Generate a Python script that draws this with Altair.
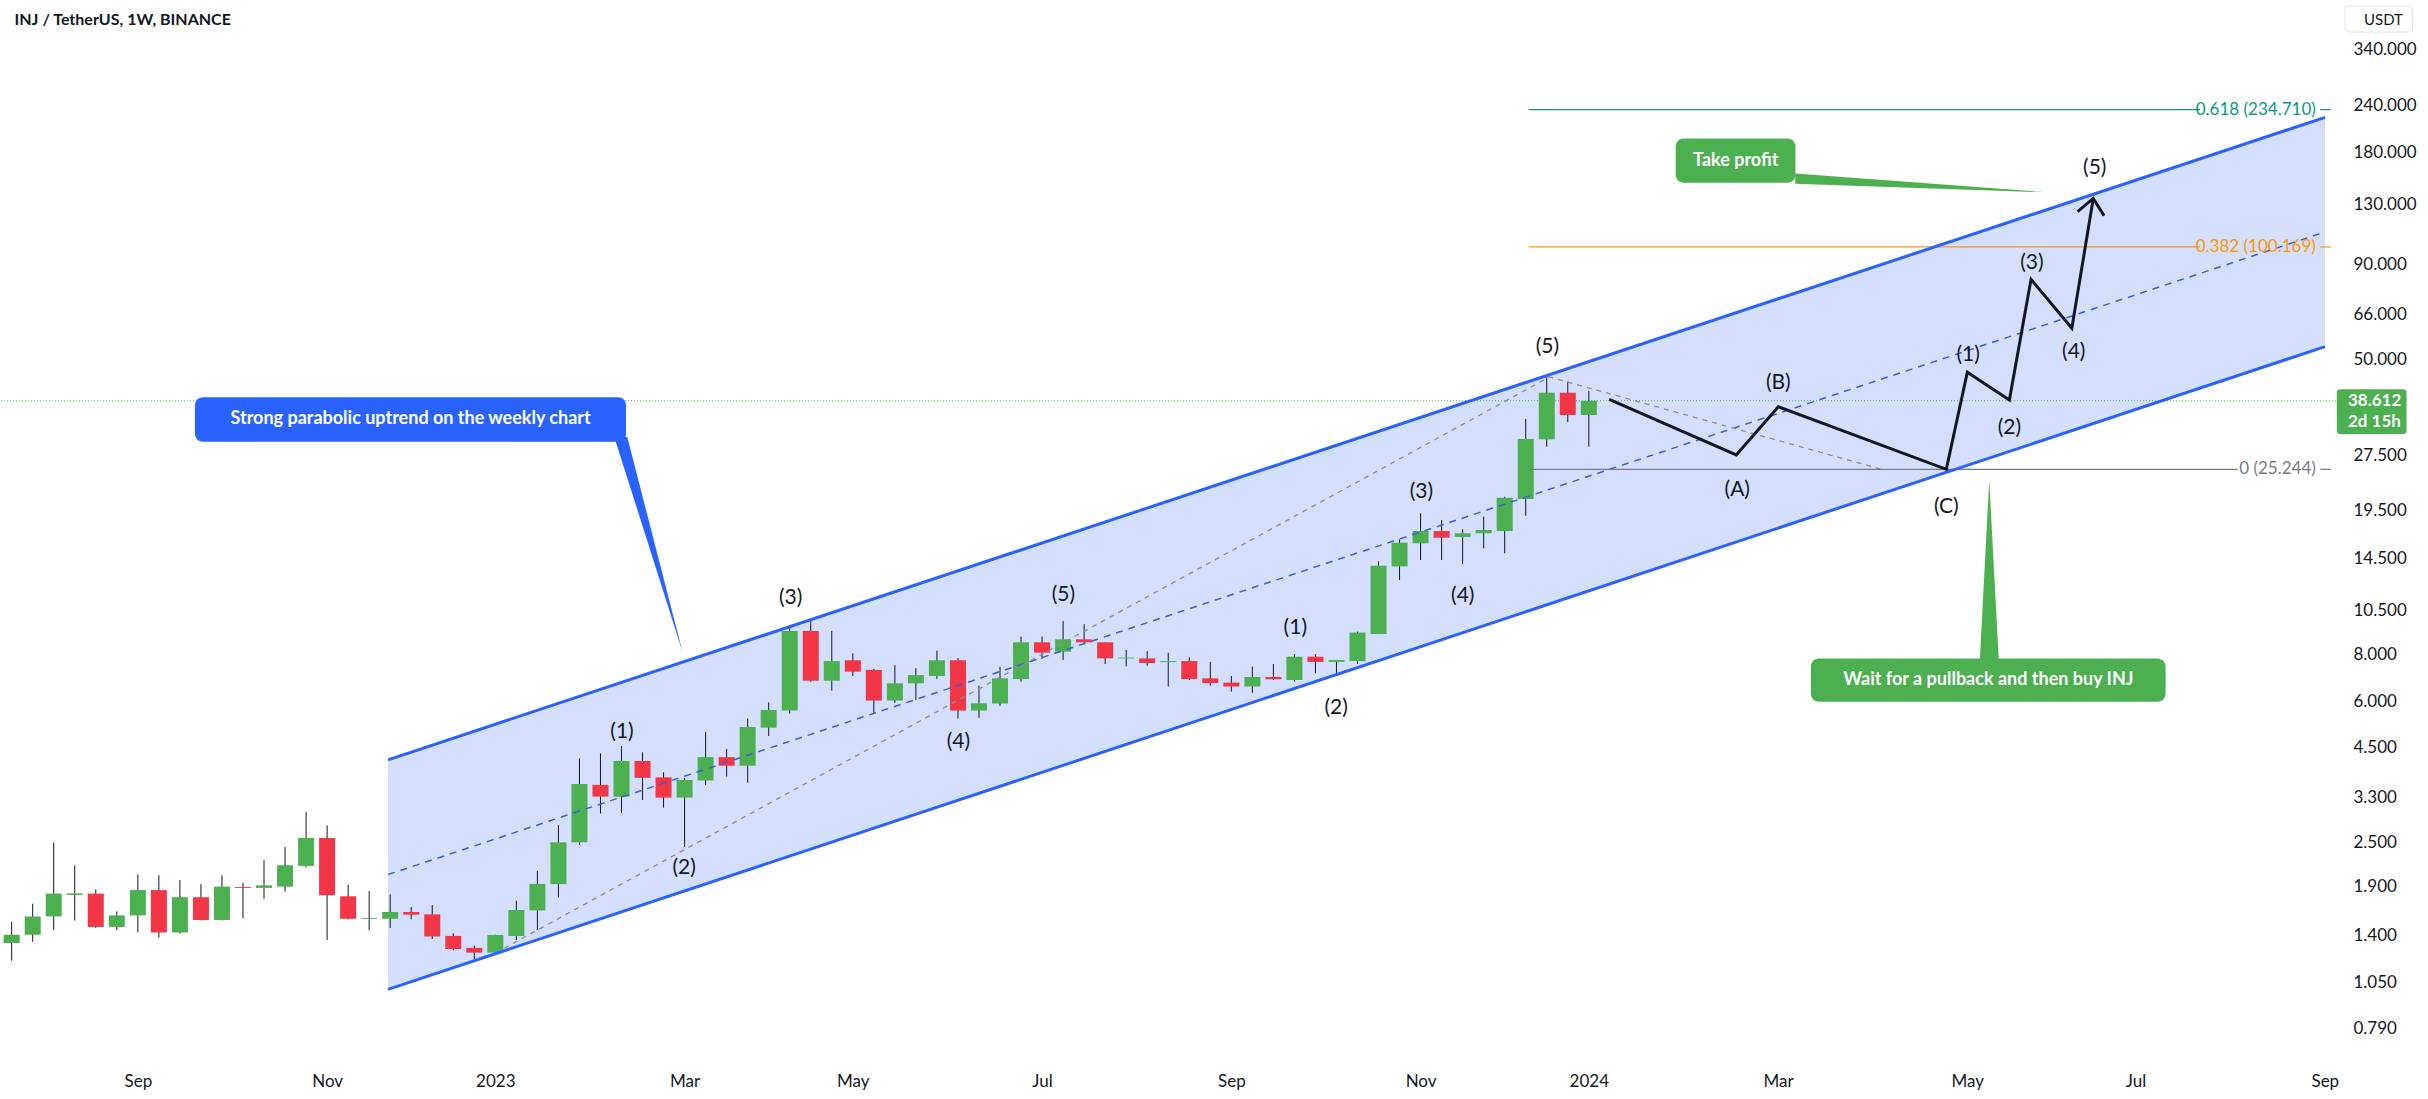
import altair as alt
import pandas as pd
import numpy as np

# ---------------- weekly candles (INJ/USDT, first week 2022-07-25) ----------------
candle_dates = [d.strftime("%Y-%m-%d") for d in pd.date_range("2022-07-25", periods=76, freq="7D")]
opens = [1.34, 1.41, 1.58, 1.805, 1.82, 1.48, 1.59, 1.86, 1.43, 1.78,
         1.545, 1.896, 1.885, 1.90, 2.16, 2.57, 1.79, 1.557, 1.557, 1.624,
         1.60, 1.40, 1.30, 1.262, 1.40, 1.64, 1.93, 2.50, 3.57, 3.32,
         4.14, 3.74, 3.30, 3.67, 4.24, 4.02, 5.09, 5.66, 9.27, 6.81,
         7.73, 7.28, 6.02, 6.70, 7.01, 7.73, 5.66, 5.91, 6.88, 8.64,
         8.15, 8.80, 8.64, 7.82, 7.82, 7.64, 7.69, 6.91, 6.73, 6.57,
         6.97, 6.84, 7.90, 7.65, 7.69, 9.09, 13.83, 15.96, 17.22, 16.60,
         16.98, 17.22, 21.0, 30.4, 40.58, 35.35]
highs = [1.53, 1.71, 2.50, 2.17, 1.87, 1.63, 2.05, 2.04, 1.98, 1.93,
         2.04, 1.95, 2.24, 2.43, 3.02, 2.78, 1.92, 1.85, 1.81, 1.675,
         1.695, 1.422, 1.318, 1.41, 1.742, 2.097, 2.784, 4.21, 4.34, 4.54,
         4.37, 3.86, 3.73, 4.955, 4.46, 5.39, 5.956, 9.62, 9.92, 9.27,
         8.07, 7.32, 7.50, 7.36, 8.20, 7.84, 6.60, 7.43, 8.95, 8.95,
         9.86, 9.67, 8.64, 8.24, 8.18, 8.10, 7.87, 7.65, 7.01, 7.43,
         7.55, 8.03, 8.03, 7.74, 9.23, 14.25, 16.35, 19.22, 18.44, 17.40,
         18.83, 21.30, 34.48, 44.82, 43.45, 41.0]
lows = [1.20, 1.35, 1.45, 1.54, 1.47, 1.45, 1.43, 1.385, 1.42, 1.54,
        1.54, 1.56, 1.76, 1.84, 2.14, 1.365, 1.55, 1.45, 1.47, 1.552,
        1.374, 1.281, 1.213, 1.245, 1.365, 1.452, 1.776, 2.46, 2.99, 3.00,
        3.25, 3.10, 2.43, 3.57, 3.76, 3.62, 4.834, 5.55, 6.77, 6.40,
        7.01, 5.54, 5.94, 6.04, 6.88, 5.39, 5.41, 5.83, 6.77, 7.79,
        7.74, 8.53, 7.55, 7.44, 7.47, 6.57, 6.84, 6.60, 6.36, 6.32,
        6.84, 6.77, 7.13, 7.10, 7.55, 9.09, 12.71, 14.39, 14.39, 14.04,
        15.47, 15.0, 18.93, 29.05, 33.83, 29.05]
closes = [1.41, 1.58, 1.82, 1.822, 1.48, 1.59, 1.86, 1.43, 1.78, 1.545,
          1.90, 1.885, 1.915, 2.17, 2.57, 1.80, 1.557, 1.565, 1.624, 1.597,
          1.395, 1.291, 1.262, 1.408, 1.644, 1.932, 2.50, 3.59, 3.32, 4.14,
          3.73, 3.30, 3.68, 4.24, 4.02, 5.11, 5.68, 9.27, 6.81, 7.69,
          7.20, 6.02, 6.70, 7.05, 7.73, 5.66, 5.92, 6.91, 8.64, 8.10,
          8.80, 8.64, 7.82, 7.86, 7.60, 7.69, 6.88, 6.71, 6.57, 6.97,
          6.87, 7.90, 7.65, 7.74, 9.18, 13.88, 16.02, 17.22, 16.52, 16.98,
          17.33, 21.17, 30.47, 40.58, 35.35, 38.612]

# ---------------- drawings ----------------
channel_dates = ["2022-11-27T07:00:00Z", "2024-09-02T02:00:00Z"]
channel_lower = [1.0055, 54.0]
channel_upper = [4.17, 223.6]
channel_mid = [2.048, 109.9]

fib_trend_dates = ["2023-01-02T00:00:00Z", "2023-12-18T22:00:00Z", "2024-04-07T12:00:00Z"]
fib_trend_prices = [1.259, 44.74, 25.244]

fib_labels = ["0.618 (234.710)", "0.382 (100.169)", "0 (25.244)"]
fib_prices = [234.71, 100.169, 25.244]
fib_colors = ["#089981", "#ff9800", "#787b86"]
fib_start = ["2023-12-12T00:00:00Z"] * 3
fib_end = ["2024-07-22T12:00:00Z", "2024-07-22T12:00:00Z", "2024-08-04T00:00:00Z"]
fib_label_at = ["2024-08-30T00:00:00Z"] * 3
fib_tail_start = ["2024-08-31T12:00:00Z"] * 3
fib_tail_end = ["2024-09-04T00:00:00Z"] * 3

path_dates = ["2024-01-07T19:00:00Z", "2024-02-19T02:00:00Z", "2024-03-04T02:00:00Z",
              "2024-04-29T00:00:00Z", "2024-05-06T00:00:00Z", "2024-05-20T00:00:00Z",
              "2024-05-27T05:00:00Z", "2024-06-09T19:00:00Z", "2024-06-16T22:00:00Z"]
path_prices = [38.97, 27.59, 37.22, 25.244, 46.06, 38.80, 81.95, 60.5, 135.3]

wave_labels = ["(1)", "(2)", "(3)", "(4)", "(5)", "(1)", "(2)", "(3)", "(4)", "(5)",
               "(A)", "(B)", "(C)", "(1)", "(2)", "(3)", "(4)", "(5)"]
wave_dates = ["2023-02-13T04:00:00Z", "2023-03-05T20:00:00Z", "2023-04-10T07:00:00Z",
              "2023-06-05T04:00:00Z", "2023-07-10T02:00:00Z", "2023-09-25T07:00:00Z",
              "2023-10-08T21:00:00Z", "2023-11-06T07:00:00Z", "2023-11-20T01:00:00Z",
              "2023-12-18T05:00:00Z", "2024-02-19T10:00:00Z", "2024-03-04T02:00:00Z",
              "2024-04-29T00:00:00Z", "2024-05-06T07:00:00Z", "2024-05-20T00:00:00Z",
              "2024-05-27T12:00:00Z", "2024-06-10T10:00:00Z", "2024-06-17T10:00:00Z"]
wave_prices = [4.965, 2.128, 11.37, 4.665, 11.59, 9.42, 5.74, 21.98, 11.51, 53.97,
               22.21, 43.18, 20.03, 51.27, 32.55, 90.82, 52.3, 163.0]

callout_texts = ["Strong parabolic uptrend on the weekly chart", "Take profit",
                 "Wait for a pullback and then buy INJ"]
callout_colors = ["#2962ff", "#4caf50", "#4caf50"]
callout_x1 = ["2022-09-24T00:00:00Z", "2024-01-29T22:00:00Z", "2024-03-14T22:00:00Z"]
callout_x2 = ["2023-02-14T12:00:00Z", "2024-03-09T19:00:00Z", "2024-07-11T00:00:00Z"]
callout_top = [39.46, 196.3, 7.82]
callout_bottom = [29.96, 149.1, 5.98]
callout_tx = ["2022-12-04T19:00:00Z", "2024-02-18T22:00:00Z", "2024-05-13T00:00:00Z"]
callout_ty = [34.38, 171.1, 6.839]

price_now = 38.612

y_ticks = [0.79, 1.05, 1.4, 1.9, 2.5, 3.3, 4.5, 6, 8, 10.5, 14.5, 19.5, 27.5, 50, 66, 90, 130, 180, 240, 340]

# ---------------- scales / axes ----------------
FONT = "Lato"
xs = alt.Scale(type="utc", nice=False,
               domain=[alt.DateTime(year=2022, month=7, date=22, hours=18, minutes=42, utc=True),
                       alt.DateTime(year=2024, month=9, date=4, hours=1, minutes=24, utc=True)])
ys = alt.Scale(type="log", domain=[0.6174, 462.9], nice=False)

x_tick_dates = [(2022, 9, 5), (2022, 11, 7), (2023, 1, 2), (2023, 3, 6), (2023, 5, 1), (2023, 7, 3),
                (2023, 9, 4), (2023, 11, 6), (2024, 1, 1), (2024, 3, 4), (2024, 5, 6), (2024, 7, 1),
                (2024, 9, 2)]
xaxis = alt.Axis(values=[alt.DateTime(year=a, month=b, date=c, utc=True) for a, b, c in x_tick_dates],
                 labelExpr="utcmonth(datum.value) == 0 ? utcFormat(datum.value, '%Y') : utcFormat(datum.value, '%b')",
                 title=None, ticks=False, domain=False, grid=False, labelFont=FONT, labelFontSize=17,
                 labelColor="#131722", labelPadding=5, labelFlush=False, labelOverlap=False)
yaxis = alt.Axis(orient="right", values=y_ticks, format=".3f", title="USDT", titleAngle=0,
                 titleX=47, titleY=19, titleAlign="center", titleBaseline="middle", titleFont=FONT,
                 titleFontSize=15, titleFontWeight="normal", titleColor="#131722",
                 ticks=False, domain=False, grid=False, labelFont=FONT, labelFontSize=17,
                 labelColor="#131722", labelPadding=17, labelOverlap=False, labelBaseline="middle")


def X(f):
    return alt.X(f, type="temporal", scale=xs, axis=xaxis)


def Y(f):
    return alt.Y(f, type="quantitative", scale=ys, axis=yaxis)


# ---------------- data frames ----------------
cdf = pd.DataFrame({"date": candle_dates, "open": opens, "high": highs, "low": lows, "close": closes})
cdf["dir"] = np.where(cdf["close"] >= cdf["open"], "up", "down")

chdf = pd.DataFrame({"date": channel_dates, "lower": channel_lower, "upper": channel_upper, "mid": channel_mid})
ftdf = pd.DataFrame({"date": fib_trend_dates, "price": fib_trend_prices})
fldf = pd.DataFrame({"label": fib_labels, "price": fib_prices, "color": fib_colors, "s": fib_start,
                     "e": fib_end, "lx": fib_label_at, "ts": fib_tail_start, "te": fib_tail_end})
pdf = pd.DataFrame({"date": path_dates, "price": path_prices, "order": list(range(len(path_dates)))})
wdf = pd.DataFrame({"label": wave_labels, "date": wave_dates, "price": wave_prices})
cbdf = pd.DataFrame({"text": callout_texts, "color": callout_colors, "x1": callout_x1, "x2": callout_x2,
                     "top": callout_top, "bottom": callout_bottom, "tx": callout_tx, "ty": callout_ty})

# pointer triangles of the callouts
ptr_blue = pd.DataFrame({"p": [30.85, 8.15],
                         "a": ["2023-02-10T14:00:00Z", "2023-03-05T07:00:00Z"],
                         "b": ["2023-02-14T22:00:00Z", "2023-03-05T07:00:00Z"]})
ptr_take = pd.DataFrame({"d": ["2024-03-09T17:00:00Z", "2024-06-01T19:00:00Z"],
                         "p1": [158.0, 140.5], "p2": [148.2, 140.5]})
ptr_wait = pd.DataFrame({"p": [7.645, 23.63],
                         "a": ["2024-05-10T03:00:00Z", "2024-05-13T07:00:00Z"],
                         "b": ["2024-05-16T12:00:00Z", "2024-05-13T07:00:00Z"]})

title_df = pd.DataFrame({"date": ["2022-07-25T23:00:00Z"], "price": [408.0],
                         "text": ["INJ / TetherUS, 1W, BINANCE"]})
badge_df = pd.DataFrame({"x1": ["2024-09-06T00:00:00Z"], "x2": ["2024-09-29T05:00:00Z"],
                         "top": [41.45], "bottom": [31.42]})
badge_txt = pd.DataFrame({"date": ["2024-09-09T17:00:00Z"] * 2, "price": [price_now, 33.91],
                          "text": [f"{price_now:.3f}", "2d 15h"]})
unit_box = pd.DataFrame({"x1": ["2024-09-08T17:00:00Z"], "x2": ["2024-10-01T05:00:00Z"],
                         "top": [445.9], "bottom": [379.6]})
now_df = pd.DataFrame({"p": [price_now]})

# ---------------- layers ----------------
fill = alt.Chart(chdf).mark_area(color="#d3dffd").encode(x=X("date"), y=Y("lower"), y2="upper")
price_line = alt.Chart(now_df).mark_rule(color="#4caf50", strokeDash=[1, 2], strokeWidth=1).encode(y=Y("p"))

wicks = alt.Chart(cdf).mark_rule(color="#131722", strokeWidth=1).encode(x=X("date"), y=Y("low"), y2="high")
bodies = alt.Chart(cdf).mark_bar(size=16).encode(
    x=X("date"), y=Y("open"), y2="close",
    color=alt.Color("dir:N", scale=alt.Scale(domain=["up", "down"], range=["#4caf50", "#f23645"]), legend=None))

mid = alt.Chart(chdf).mark_line(color="#3b5fd9", strokeDash=[7, 6], strokeWidth=1.5).encode(x=X("date"), y=Y("mid"))
upper = alt.Chart(chdf).mark_line(color="#2962ff", strokeWidth=3).encode(x=X("date"), y=Y("upper"))
lower = alt.Chart(chdf).mark_line(color="#2962ff", strokeWidth=3).encode(x=X("date"), y=Y("lower"))
ftrend = alt.Chart(ftdf).mark_line(color="#8a8e9c", strokeDash=[5, 5], strokeWidth=1.3).encode(x=X("date"), y=Y("price"))

fib_lines = alt.Chart(fldf).mark_rule(strokeWidth=1.2).encode(
    x=X("s"), x2="e", y=Y("price"), color=alt.Color("color:N", scale=None))
fib_tails = alt.Chart(fldf).mark_rule(strokeWidth=1.2).encode(
    x=X("ts"), x2="te", y=Y("price"), color=alt.Color("color:N", scale=None))
fib_text = alt.Chart(fldf).mark_text(font=FONT, fontSize=17, align="right", baseline="middle").encode(
    x=X("lx"), y=Y("price"), text="label:N", color=alt.Color("color:N", scale=None))

path = alt.Chart(pdf).mark_line(color="#131722", strokeWidth=3, strokeJoin="miter").encode(
    x=X("date"), y=Y("price"), order="order:Q")
arrow = alt.Chart(pdf.tail(1)).mark_point(
    shape="M -1 1.15 L 0 0 L 1 1.15", filled=False, stroke="#131722", strokeWidth=3,
    size=720, angle=9, opacity=1).encode(x=X("date"), y=Y("price"))

waves = alt.Chart(wdf).mark_text(font=FONT, fontSize=21, color="#131722", align="center",
                                 baseline="middle").encode(x=X("date"), y=Y("price"), text="label:N")

boxes = alt.Chart(cbdf).mark_rect(cornerRadius=8).encode(
    x=X("x1"), x2="x2", y=Y("top"), y2="bottom", color=alt.Color("color:N", scale=None))
box_text = alt.Chart(cbdf).mark_text(font=FONT, fontSize=18, fontWeight="bold", color="white",
                                     align="center", baseline="middle").encode(
    x=X("tx"), y=Y("ty"), text="text:N")
p_blue = alt.Chart(ptr_blue).mark_area(orient="horizontal", color="#2962ff").encode(
    y=Y("p"), x=X("a"), x2="b")
p_take = alt.Chart(ptr_take).mark_area(color="#4caf50").encode(x=X("d"), y=Y("p1"), y2="p2")
p_wait = alt.Chart(ptr_wait).mark_area(orient="horizontal", color="#4caf50").encode(
    y=Y("p"), x=X("a"), x2="b")

title = alt.Chart(title_df).mark_text(font=FONT, fontSize=16, fontWeight="bold", color="#131722",
                                      align="left", baseline="middle").encode(
    x=X("date"), y=Y("price"), text="text:N")
badge = alt.Chart(badge_df).mark_rect(color="#4caf50", cornerRadius=3).encode(
    x=X("x1"), x2="x2", y=Y("top"), y2="bottom")
badge_text = alt.Chart(badge_txt).mark_text(font=FONT, fontSize=17, fontWeight="bold", color="white",
                                            align="left", baseline="middle").encode(
    x=X("date"), y=Y("price"), text="text:N")
unit = alt.Chart(unit_box).mark_rect(fillOpacity=0, stroke="#e0e3eb", strokeWidth=1, cornerRadius=4).encode(
    x=X("x1"), x2="x2", y=Y("top"), y2="bottom")

chart = alt.layer(
    fill, price_line, wicks, bodies, mid, ftrend, fib_lines, fib_tails, fib_text,
    upper, lower, path, arrow, waves, p_blue, p_take, p_wait, boxes, box_text,
    title, badge, badge_text, unit
).properties(
    width=2336, height=1068, autosize="none", background="white",
    padding={"left": 0, "top": 0, "right": 92, "bottom": 31}
).configure_view(stroke=None)

chart.save("out.html", embed_options={"renderer": "svg", "actions": False})
